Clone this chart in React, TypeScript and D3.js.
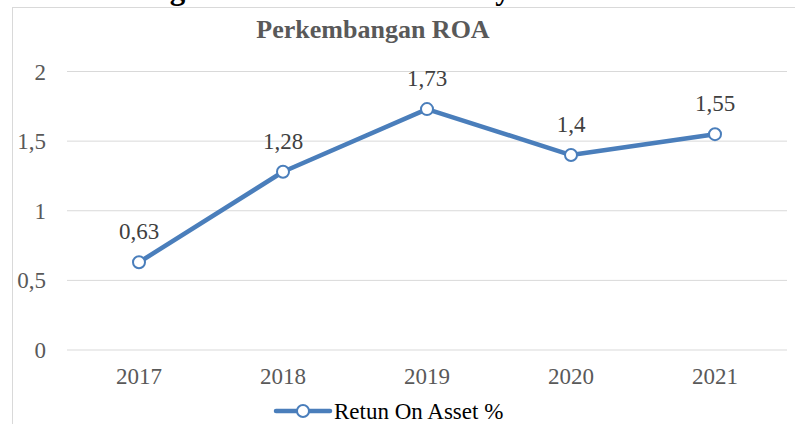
import React from "react";
import * as d3 from "d3";

const categories = ["2017", "2018", "2019", "2020", "2021"];
const roaValues = [0.63, 1.28, 1.73, 1.4, 1.55];
const valueLabels = ["0,63", "1,28", "1,73", "1,4", "1,55"];
const yTicks = [0, 0.5, 1, 1.5, 2];
const yTickLabels = ["0", "0,5", "1", "1,5", "2"];
const seriesName = "Retun On Asset %";
const chartTitle = "Perkembangan ROA";
const captionText = "Perkembangan ROA Bank Umum Syariah di Indonesia";

export default function App() {
  const W = 795, H = 424;
  const left = 67, right = 787, top = 71.5, bottom = 350;
  const x = d3.scaleBand<string>().domain(categories).range([left, right]);
  const y = d3.scaleLinear().domain([0, 2]).range([bottom, top]);
  const cx = (c: string) => (x(c) as number) + x.bandwidth() / 2;
  const line = d3.line<number>().x((_, i) => cx(categories[i])).y((d) => y(d));
  const blue = "#4A7EBB";
  const font = "'Liberation Serif', 'Times New Roman', serif";
  return (
    <svg width={W} height={H} style={{ position: "absolute", left: 0, top: 0 }} fontFamily={font}>
      <rect x={0} y={0} width={W} height={H} fill="#fff" />
      <text x={752} y={-1} textAnchor="end" fontSize={31} fontWeight="bold" fill="#000">{captionText}</text>
      <rect x={12.5} y={7.5} width={800} height={440} fill="#fff" stroke="#d9d9d9" />
      <text x={373} y={38} textAnchor="middle" fontSize={26} fontWeight="bold" fill="#595959">{chartTitle}</text>
      {yTicks.map((t, i) => (
        <g key={t}>
          <line x1={left} x2={right} y1={y(t)} y2={y(t)} stroke="#d9d9d9" strokeWidth={1} />
          <text x={46} y={y(t) + 8} textAnchor="end" fontSize={23} fill="#595959">{yTickLabels[i]}</text>
        </g>
      ))}
      {categories.map((c) => (
        <text key={c} x={cx(c)} y={384} textAnchor="middle" fontSize={23} fill="#595959">{c}</text>
      ))}
      <path d={line(roaValues) as string} fill="none" stroke={blue} strokeWidth={4.5} strokeLinejoin="round" strokeLinecap="round" />
      {roaValues.map((v, i) => (
        <g key={i}>
          <circle cx={cx(categories[i])} cy={y(v)} r={6} fill="#fff" stroke={blue} strokeWidth={2} />
          <text x={cx(categories[i])} y={y(v) - 23} textAnchor="middle" fontSize={23} fill="#404040">{valueLabels[i]}</text>
        </g>
      ))}
      <line x1={276} x2={330} y1={411} y2={411} stroke={blue} strokeWidth={4.5} strokeLinecap="round" />
      <circle cx={303} cy={411} r={6} fill="#fff" stroke={blue} strokeWidth={2} />
      <text x={334} y={419} fontSize={23} fill="#000">{seriesName}</text>
    </svg>
  );
}
